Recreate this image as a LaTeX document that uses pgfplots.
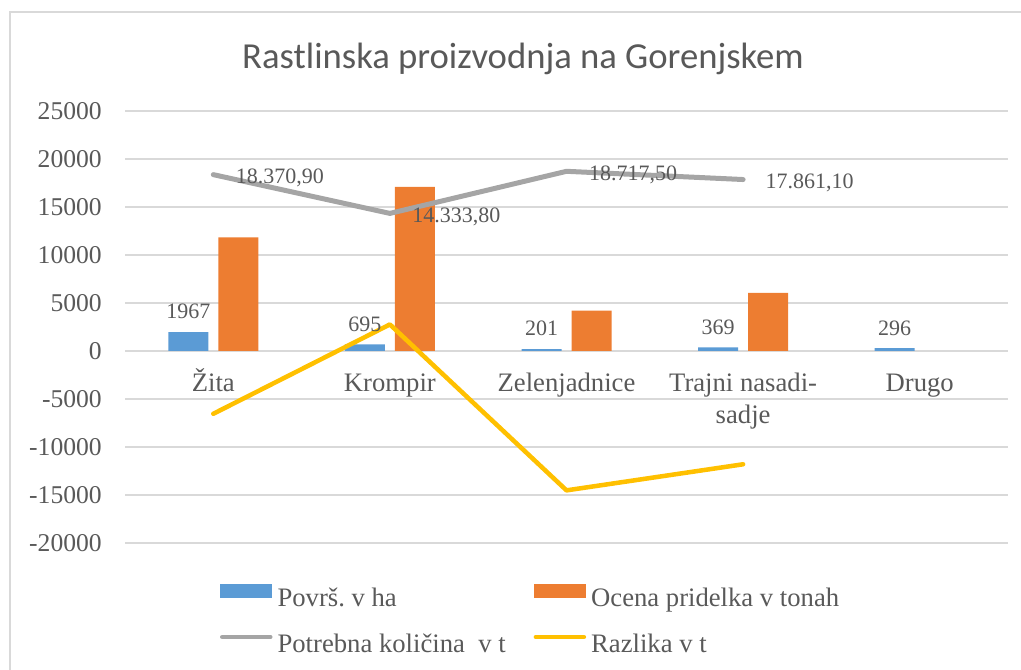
\documentclass[border=0pt]{standalone}
\usepackage{fontspec}
\setmainfont{Liberation Serif}
\newfontfamily\titlefont{Carlito}
\usepackage{pgfplots}
\pgfplotsset{compat=1.18}
\definecolor{cBlue}{HTML}{5B9BD5}
\definecolor{cOrange}{HTML}{ED7D31}
\definecolor{cGray}{HTML}{A5A5A5}
\definecolor{cYellow}{HTML}{FFC000}
\definecolor{cGrid}{HTML}{D9D9D9}
\definecolor{cText}{HTML}{595959}
\newcommand\xs{\rule{0pt}{19pt}}
\begin{document}
\frenchspacing
\begin{tikzpicture}
\useasboundingbox (0,0) rectangle (765.75pt,502.5pt);
\draw[cGrid, line width=1.2pt] (7.5pt,-2pt) -- (7.5pt,493.5pt) -- (770pt,493.5pt);
\node[anchor=base, font=\titlefont\fontsize{27.5}{33}\selectfont, text=cText, inner sep=0pt] at (392.25pt,450.75pt) {Rastlinska proizvodnja na Gorenjskem};
\begin{axis}[
  at={(93.75pt,95.25pt)}, anchor=south west,
  scale only axis, width=662.25pt, height=324pt,
  xmin=-0.5, xmax=4.5, ymin=-20000, ymax=25000,
  scaled y ticks=false,
  axis x line*=middle, axis y line*=left,
  hide obscured x ticks=false, hide obscured y ticks=false,
  x axis line style={cGrid, line width=0.9pt, -},
  y axis line style={draw=none},
  major tick length=0pt,
  ytick={-20000,-15000,-10000,-5000,0,5000,10000,15000,20000,25000},
  yticklabels={-20000,-15000,-10000,-5000,0,5000,10000,15000,20000,25000},
  ymajorgrids, grid style={cGrid, line width=0.9pt},
  xtick={0,1,2,3,4},
  xticklabels={\xs Žita, \xs Krompir, \xs Zelenjadnice, {\xs Trajni nasadi-\\sadje}, \xs Drugo},
  xticklabel style={font=\fontsize{20}{24}\selectfont, text=cText, align=center, anchor=north, inner sep=0pt, yshift=-11.5pt},
  yticklabel style={font=\fontsize{19.2}{23}\selectfont, text=cText, anchor=east, inner sep=0pt, xshift=-17.25pt},
  clip=false,
  legend columns=2,
  legend cell align=left,
  legend style={
    at={(0.1076,-0.095)}, anchor=north west, draw=none, fill=none,
    inner sep=0pt, outer sep=0pt,
    font=\fontsize{20}{24}\selectfont, text=cText,
    row sep=15.5pt,
    nodes={inner sep=0pt, text height=14pt, text depth=5pt},
    /tikz/every odd column/.append style={column sep=3.75pt},
    /tikz/every even column/.append style={column sep=21pt},
  },
]
\addplot[ybar, bar width=30pt, bar shift=-18.75pt, fill=cBlue, draw=none,
  point meta=explicit symbolic, nodes near coords=\pgfplotspointmeta,
  nodes near coords style={font=\fontsize{16.5}{20}\selectfont, text=cText, inner sep=0pt, anchor=south, xshift=-18.75pt, yshift=9.5pt},
  legend image code/.code={\fill[cBlue] (0pt,1.5pt) rectangle (39pt,12pt);}]
  coordinates {(0,1967)[1967] (1,695)[695] (2,201)[201] (3,369)[369] (4,296)[296]};
\addlegendentry{Površ.\ v ha}
\addplot[ybar, bar width=30pt, bar shift=18.75pt, fill=cOrange, draw=none,
  legend image code/.code={\fill[cOrange] (0pt,1.5pt) rectangle (39pt,12pt);}]
  coordinates {(0,11830) (1,17100) (2,4200) (3,6060)};
\addlegendentry{Ocena pridelka v tonah}
\addplot[cGray, line width=3.75pt, line cap=round, line join=round, mark=none,
  point meta=explicit symbolic, nodes near coords=\pgfplotspointmeta,
  nodes near coords style={font=\fontsize{16.5}{20}\selectfont, text=cText, inner sep=0pt, anchor=west, xshift=15pt, yshift=-2.5pt},
  legend image code/.code={\draw[cGray, line width=3.4pt, line cap=round] (1.5pt,6.75pt) -- (37.5pt,6.75pt);}]
  coordinates {(0,18370.9)[18.370,90] (1,14333.8)[14.333,80] (2,18717.5)[18.717,50] (3,17861.1)[17.861,10]};
\addlegendentry{Potrebna količina\ \ v t}
\addplot[cYellow, line width=3.4pt, line cap=round, line join=round, mark=none,
  legend image code/.code={\draw[cYellow, line width=3.4pt, line cap=round] (1.5pt,6.75pt) -- (37.5pt,6.75pt);}]
  coordinates {(0,-6541) (1,2766) (2,-14518) (3,-11801)};
\addlegendentry{Razlika v t}
\end{axis}
\end{tikzpicture}
\end{document}
